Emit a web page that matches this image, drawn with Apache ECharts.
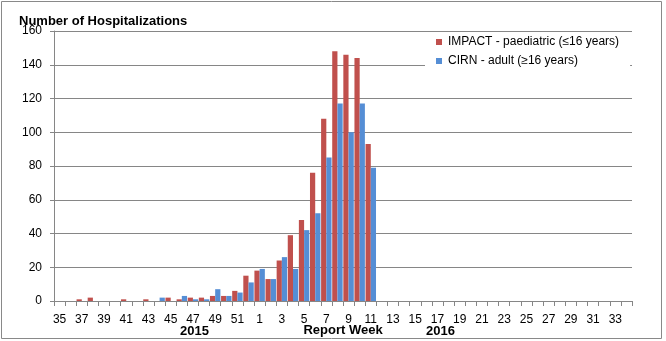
<!DOCTYPE html>
<html><head><meta charset="utf-8">
<script src="https://cdn.jsdelivr.net/npm/echarts@6/dist/echarts.min.js"></script>
<style>html,body{margin:0;padding:0;background:#fff}#c{width:666px;height:341px}</style>
</head><body><div id="c"></div>
<script>
const weeks = ['35','36','37','38','39','40','41','42','43','44','45','46','47','48','49','50','51','52',
  '1','2','3','4','5','6','7','8','9','10','11','12','13','14','15','16','17','18','19','20','21','22','23','24','25','26','27','28','29','30','31','32','33','34'];
const impact = [0,0,1,2,0,0,1,0,1,0,2,1,2,2,3,3,6,15,
  18,13,24,39,48,76,108,148,146,144,93,0,0,0,0,0,0,0,0,0,0,0,0,0,0,0,0,0,0,0,0,0,0,0];
const cirn = [0,0,0,0,0,0,0,0,0,2,0,3,1,1,7,3,5,11,
  19,13,26,19,42,52,85,117,100,117,79,0,0,0,0,0,0,0,0,0,0,0,0,0,0,0,0,0,0,0,0,0,0,0];
const yTicks = {min:0, max:160, interval:20};
const seriesNames = ['IMPACT - paediatric (\u226416 years)', 'CIRN - adult (\u226516 years)'];
const yearLabels = ['2015','2016'];

const chart = echarts.init(document.getElementById('c'));
const font = '"Liberation Sans", Arial, sans-serif';
chart.setOption({
  animation:false,
  textStyle:{fontFamily:font},
  title:{text:'Number of Hospitalizations', left:14, top:10,
    textStyle:{fontFamily:font, fontSize:13, fontWeight:'bold', color:'#000'}},
  legend:{orient:'vertical', left:425, top:33, padding:[3,11,6,11], backgroundColor:'#fff',
    itemWidth:6, itemHeight:6, itemGap:7, icon:'rect',
    textStyle:{fontFamily:font, fontSize:12, color:'#000', padding:[0,0,0,1]},
    data:seriesNames},
  grid:{left:54, right:34, top:31, bottom:40, containLabel:false, outerBoundsMode:'none'},
  xAxis:{type:'category', data:weeks,
    name:'Report Week', nameLocation:'middle', nameGap:23, nameMoveOverlap:false,
    nameTextStyle:{fontFamily:font, fontSize:13, fontWeight:'bold', color:'#000'},
    axisLine:{lineStyle:{color:'#868686', width:1}},
    axisTick:{show:true, interval:0, length:5, lineStyle:{color:'#868686'}},
    axisLabel:{interval:1, fontSize:12, color:'#000', margin:13, fontFamily:font}},
  yAxis:{type:'value', min:yTicks.min, max:yTicks.max, interval:yTicks.interval,
    axisLine:{show:true, lineStyle:{color:'#868686'}},
    axisTick:{show:true, length:4, lineStyle:{color:'#868686'}},
    axisLabel:{fontSize:12, color:'#000', margin:12, fontFamily:font},
    splitLine:{lineStyle:{color:'#868686', width:1}}},
  graphic:[
    {type:'rect', shape:{x:1.5, y:1.5, width:660, height:337}, style:{fill:'none', stroke:'#898989', lineWidth:1}, silent:true},
    {type:'text', left:180, top:325, style:{text:yearLabels[0], font:'bold 13px ' + font, fill:'#000'}},
    {type:'text', left:426, top:325, style:{text:yearLabels[1], font:'bold 13px ' + font, fill:'#000'}}
  ],
  series:[
    {name:seriesNames[0], type:'bar', data:impact, itemStyle:{color:'#C0504D'}, barGap:'0%', barCategoryGap:'6%'},
    {name:seriesNames[1], type:'bar', data:cirn, itemStyle:{color:'#558ED5'}, barGap:'0%', barCategoryGap:'6%'}
  ]
});
</script></body></html>
